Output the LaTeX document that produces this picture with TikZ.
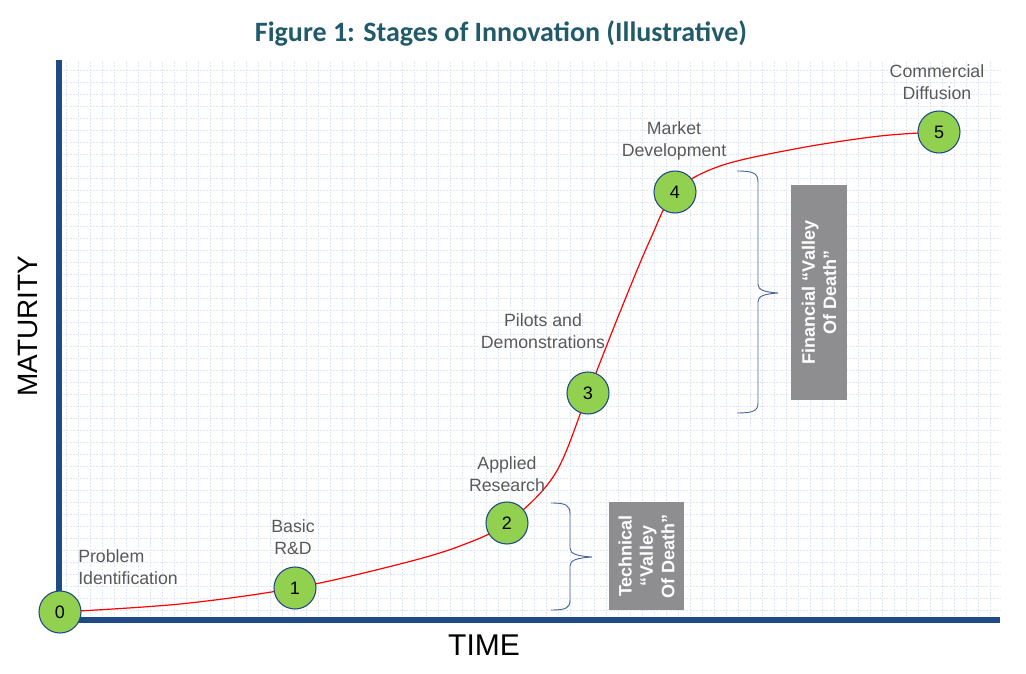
\documentclass[tikz,border=0pt]{standalone}
\usepackage{fontspec}
\setmainfont{Liberation Sans}
\newfontfamily\titlefont{Carlito}
\definecolor{axisblue}{HTML}{1F4A86}
\definecolor{gridblue}{HTML}{DDE6F2}
\definecolor{titleteal}{HTML}{215A6A}
\definecolor{labelgray}{HTML}{595959}
\definecolor{stagegreen}{HTML}{92D050}
\definecolor{boxgray}{HTML}{8E8E90}
\definecolor{bracecol}{HTML}{4A6698}
\begin{document}
\begin{tikzpicture}[x=0.75pt,y=-0.75pt,
  gridline/.style={draw=gridblue,line width=0.55pt,dash pattern=on 1.5pt off 1pt},
  axisline/.style={draw=axisblue,line width=5.2pt,line join=miter},
  stage/.style={circle,draw=axisblue,line width=0.8pt,fill=stagegreen,minimum size=31.5pt,inner sep=0pt,font=\fontsize{13.5}{15}\selectfont},
  stagelabel/.style={text=labelgray,font=\fontsize{13.3}{17}\selectfont,align=center,inner sep=0pt},
  gbox/.style={fill=boxgray,text=white,font=\bfseries\fontsize{13.5}{16}\selectfont,align=center,inner sep=0pt,rotate=90},
  curly/.style={draw=bracecol,line width=0.7pt},
  curve/.style={draw=red,line width=0.9pt}
]
\useasboundingbox (0,0) rectangle (1026,674);
% grid
\foreach \x in {66,78,...,998} \draw[gridline] (\x,62) -- (\x,616);
\foreach \y in {70,82,...,610} \draw[gridline] (63,\y) -- (1000,\y);
% title
\node[text=titleteal,font=\titlefont\bfseries\fontsize{21}{24}\selectfont] (title) at (501,33) {Figure 1: Stages of Innovation (Illustrative)};
% axes
\coordinate (ytop) at (59,60);
\coordinate (origin) at (59,620);
\coordinate (xend) at (1000,620);
\draw[axisline] (ytop) -- (origin) -- (xend);
\node[rotate=90,font=\fontsize{21}{24}\selectfont] (ylab) at (28,326) {MATURITY};
\node[font=\fontsize{22.5}{26}\selectfont] (xlab) at (484,645) {TIME};
% stage coordinates
\coordinate (c0) at (60,612);
\coordinate (c1) at (295,588);
\coordinate (c2) at (507,523);
\coordinate (c3) at (588,393);
\coordinate (c4) at (675,192);
\coordinate (c5) at (939,132);
% curve
\draw[curve] plot[smooth,tension=0.55] coordinates {(c0) (180,604) (c1) (400,564) (460,546) (c2) (555,474) (c3) (620,312) (650,240) (c4) (720,166) (800,148) (880,136) (c5)};
% stages
\node[stage] (n0) at (c0) {0};
\node[stage] (n1) at (c1) {1};
\node[stage] (n2) at (c2) {2};
\node[stage] (n3) at (c3) {3};
\node[stage] (n4) at (c4) {4};
\node[stage] (n5) at (c5) {5};
% labels
\node[stagelabel,align=left,anchor=west] (l0) at (78,567) {Problem\\Identification};
\node[stagelabel] (l1) at (293,537) {Basic\\R\&D};
\node[stagelabel] (l2) at (507,474) {Applied\\Research};
\node[stagelabel] (l3) at (543,331) {Pilots and\\Demonstrations};
\node[stagelabel] (l4) at (674,141) {Market\\Development};
\node[stagelabel] (l5) at (937,82) {Commercial\\Diffusion};
% braces
\draw[curly] (551,503) .. controls (566,503) and (570,505) .. (570,514) -- (570,548)
  .. controls (570,554) and (577,556) .. (592,557)
  .. controls (577,558) and (570,560) .. (570,566) -- (570,600)
  .. controls (570,608) and (566,610) .. (551,610);
\draw[curly] (737,171) .. controls (753,171) and (758,173) .. (758,182) -- (758,284)
  .. controls (758,290) and (764,292) .. (778,293)
  .. controls (764,294) and (758,296) .. (758,302) -- (758,403)
  .. controls (758,411) and (753,413) .. (737,413);
% grey boxes
\node[gbox,minimum width=81pt,minimum height=56.25pt] (tech) at (646.5,556) {Technical\\“Valley\\Of Death”};
\node[gbox,minimum width=161pt,minimum height=42pt] (fin) at (819,292.5) {Financial “Valley\\Of Death”};
\end{tikzpicture}
\end{document}
